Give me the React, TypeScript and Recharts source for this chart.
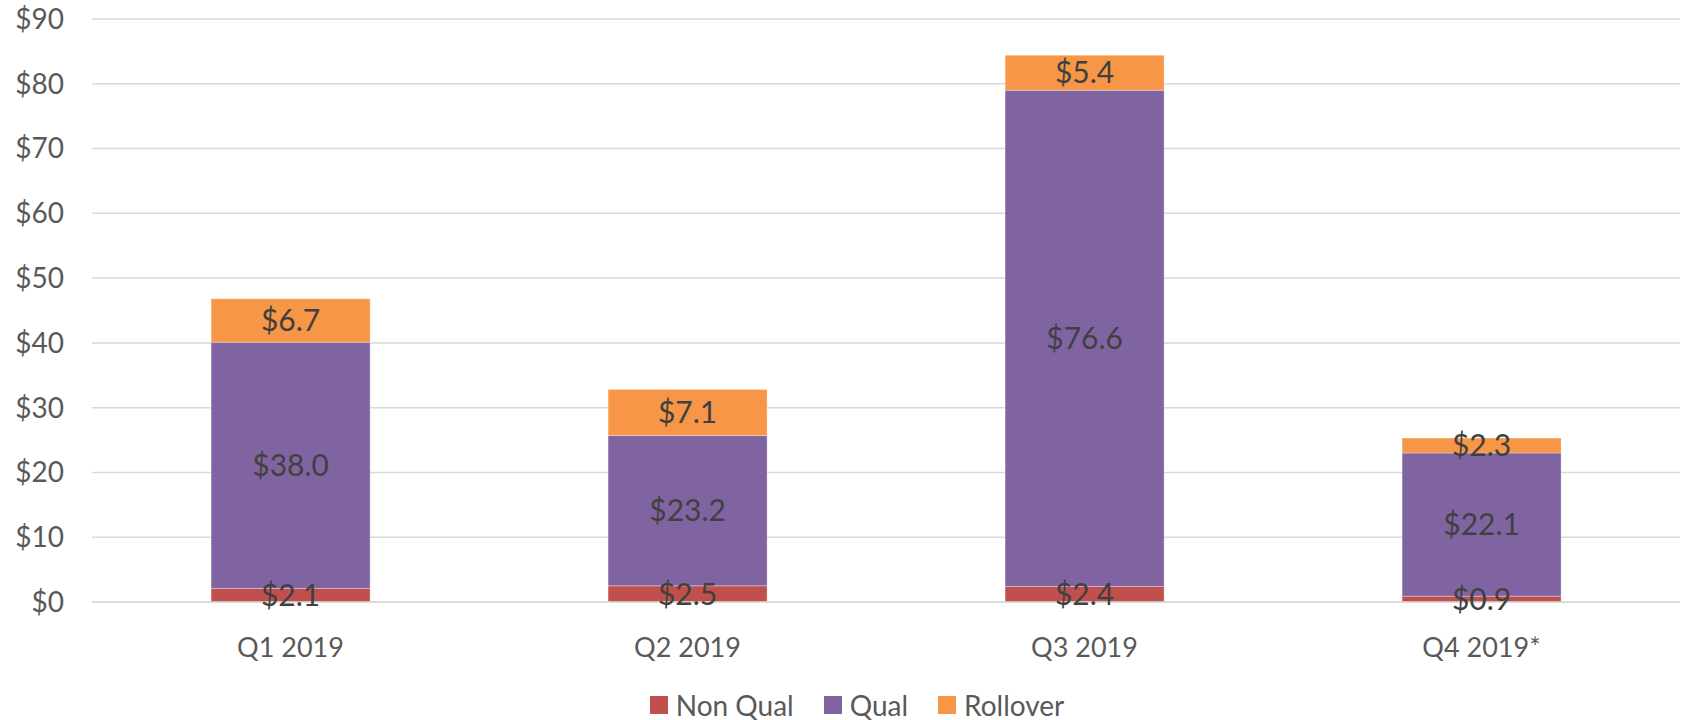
import React from "react";
import { BarChart, Bar, XAxis, YAxis, CartesianGrid, Legend, LabelList } from "recharts";

const categories = ["Q1 2019", "Q2 2019", "Q3 2019", "Q4 2019*"];
const nonQual = [2.1, 2.5, 2.4, 0.9];
const qual = [38.0, 23.2, 76.6, 22.1];
const rollover = [6.7, 7.1, 5.4, 2.3];
const yTicks = [0, 10, 20, 30, 40, 50, 60, 70, 80, 90];

const seriesNames = ["Non Qual", "Qual", "Rollover"];
const seriesKeys = ["nonQual", "qual", "rollover"];
const colors = ["#C0504D", "#8064A2", "#F79646"];

const data = categories.map((c, i) => ({
  name: c,
  nonQual: nonQual[i],
  qual: qual[i],
  rollover: rollover[i],
}));

const FONT = "Lato, 'Open Sans', sans-serif";

const renderLegend = () => (
  <div
    style={{
      height: 28,
      display: "flex",
      justifyContent: "center",
      alignItems: "center",
      paddingLeft: 34,
      fontFamily: FONT,
      fontSize: 28,
      color: "#595959",
    }}
  >
    {seriesNames.map((n, i) => (
      <div key={n} style={{ display: "flex", alignItems: "center", marginRight: i < 2 ? 30 : 0 }}>
        <div style={{ width: 18, height: 18, background: colors[i], marginRight: 8 }} />
        <span style={{ lineHeight: "28px" }}>{n}</span>
      </div>
    ))}
  </div>
);

const fmt = (v: any) => `$${Number(v).toFixed(1)}`;

export default function App() {
  return (
    <div style={{ position: "absolute", left: 0, top: 0, background: "#fff" }}>
      <BarChart
        width={1683}
        height={720}
        data={data}
        margin={{ top: 19, right: 3, left: 0, bottom: 1 }}
        barCategoryGap="30%"
      >
        <CartesianGrid vertical={false} stroke="#D9D9D9" strokeWidth={1.5} />
        <XAxis
          dataKey="name"
          axisLine={{ stroke: "#D9D9D9", strokeWidth: 1.5 }}
          tickLine={false}
          tickSize={0}
          tickMargin={36}
          height={89}
          tick={{ fill: "#595959", fontSize: 27, fontFamily: FONT }}
        />
        <YAxis
          domain={[0, 90]}
          ticks={yTicks}
          axisLine={false}
          tickLine={false}
          tickSize={0}
          tickMargin={28}
          width={92}
          tickFormatter={(v: number) => `$${v}`}
          tick={{ fill: "#595959", fontSize: 28, fontFamily: FONT }}
        />
        <Legend verticalAlign="bottom" content={renderLegend} />
        {seriesKeys.map((k, i) => (
          <Bar
            key={k}
            dataKey={k}
            name={seriesNames[i]}
            stackId="a"
            fill={colors[i]}
            stroke="#ffffff"
            strokeOpacity={0.3}
            strokeWidth={1}
            isAnimationActive={false}
          >
            <LabelList
              dataKey={k}
              position="center"
              formatter={fmt}
              style={{ fill: "#404040", fontSize: 30, fontFamily: FONT }}
            />
          </Bar>
        ))}
      </BarChart>
    </div>
  );
}
